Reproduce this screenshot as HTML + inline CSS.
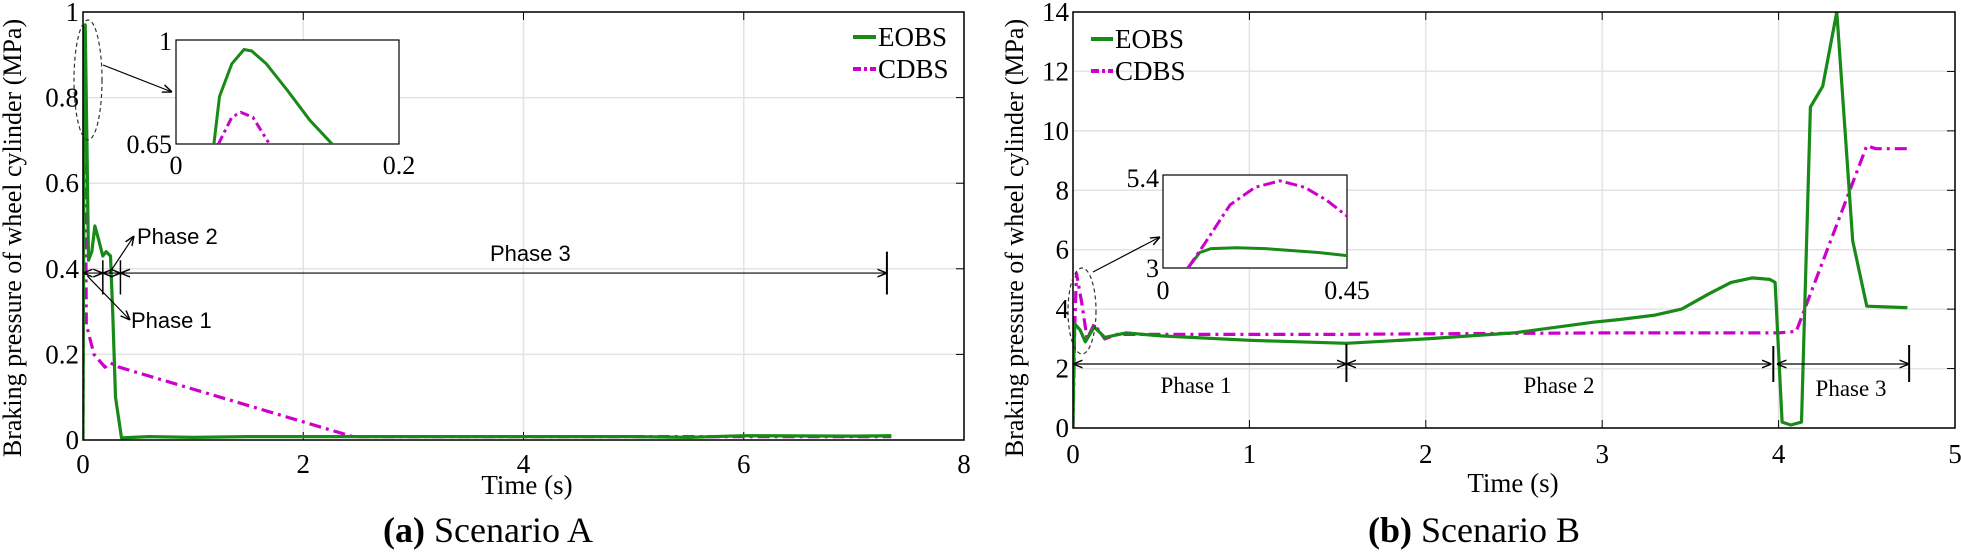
<!DOCTYPE html>
<html><head><meta charset="utf-8"><style>
html,body{margin:0;padding:0;background:#fff;}
svg{display:block;}
.serif{font-family:"Liberation Serif",serif;}
.sans{font-family:"Liberation Sans",sans-serif;}
</style></head><body>
<svg id="fig" width="1961" height="553" viewBox="0 0 1961 553" xmlns="http://www.w3.org/2000/svg">
<defs>
<marker id="ar" viewBox="0 0 10 10" refX="10" refY="5" markerWidth="8" markerHeight="8" orient="auto-start-reverse"><path d="M0,1 L10,5 L0,9" fill="none" stroke="#000" stroke-width="1.5"/></marker>
<clipPath id="clipA"><rect x="83" y="12" width="881" height="429"/></clipPath>
<clipPath id="clipB"><rect x="1073" y="12" width="882" height="417"/></clipPath>
<clipPath id="clipAi"><rect x="176" y="40" width="223" height="104"/></clipPath>
<clipPath id="clipBi"><rect x="1163" y="175" width="184" height="93"/></clipPath>
</defs>
<g id="gA"></g>
<g id="gB"></g>
</svg>
<script>
// Scenario A data
const aEobsT = [0,0.01,0.02,0.035,0.05,0.08,0.108,0.14,0.18,0.21,0.25,0.27,0.295,0.35,0.6,1,1.5,2,3,4,5,5.5,6,7,7.34];
const aEobsV = [0,0.9,0.97,0.7,0.42,0.44,0.5,0.47,0.43,0.44,0.43,0.3,0.1,0.005,0.008,0.006,0.008,0.008,0.008,0.008,0.008,0.006,0.01,0.009,0.01];
const aCdbsT = [0,0.01,0.02,0.03,0.05,0.1,0.2,0.25,0.33,2.45,4,6,7.34];
const aCdbsV = [0,0.85,0.76,0.27,0.25,0.2,0.17,0.18,0.17,0.008,0.008,0.008,0.008];
const aInEobsT = [0.034,0.039,0.05,0.061,0.068,0.081,0.1,0.12,0.14];
const aInEobsV = [0.65,0.81,0.92,0.968,0.963,0.92,0.83,0.73,0.65];
const aInCdbsT = [0.038,0.05,0.058,0.069,0.083];
const aInCdbsV = [0.65,0.74,0.757,0.74,0.655];
const aXTicks = [0,2,4,6,8];
const aYTicks = [0,0.2,0.4,0.6,0.8,1];
const aYTickLabels = ["0","0.2","0.4","0.6","0.8","1"];
// Scenario B data
const bEobsT = [0,0.005,0.01,0.04,0.07,0.12,0.18,0.3,0.5,1,1.55,2,2.5,2.95,3.1,3.3,3.45,3.6,3.73,3.85,3.95,3.98,4.02,4.07,4.13,4.18,4.25,4.33,4.42,4.5,4.73];
const bEobsV = [0,2.5,3.5,3.3,2.9,3.4,3.05,3.2,3.1,2.95,2.85,3.0,3.2,3.56,3.65,3.8,4.0,4.5,4.9,5.05,5.0,4.9,0.2,0.1,0.2,10.8,11.5,14,6.3,4.1,4.05];
const bCdbsT = [0,0.01,0.02,0.05,0.08,0.12,0.18,0.25,1,1.5,2,3,4,4.1,4.5,4.55,4.73];
const bCdbsV = [0,3.5,5.2,4.2,3.0,3.5,3.0,3.15,3.15,3.15,3.17,3.2,3.2,3.25,9.5,9.4,9.4];
const bInEobsT = [0.061,0.09,0.118,0.18,0.25,0.317,0.38,0.45];
const bInEobsV = [3,3.4,3.5,3.52,3.5,3.45,3.4,3.32];
const bInCdbsT = [0.061,0.1,0.164,0.225,0.286,0.347,0.4,0.45];
const bInCdbsV = [3,3.6,4.63,5.08,5.25,5.08,4.75,4.34];
const bXTicks = [0,1,2,3,4,5];
const bYTicks = [0,2,4,6,8,10,12,14];

const NS="http://www.w3.org/2000/svg";
function mk(parent,tag,attrs,text){const e=document.createElementNS(NS,tag);for(const k in attrs)e.setAttribute(k,attrs[k]);if(text!==undefined)e.textContent=text;parent.appendChild(e);return e;}
function lin(d0,d1,r0,r1){return v=>r0+(v-d0)/(d1-d0)*(r1-r0);}
const GREEN="#178a17", MAG="#cc00cc";
function series(g,ts,vs,sx,sy,color,dash,clip,w){
  const pts=ts.map((t,i)=>sx(t).toFixed(1)+","+sy(vs[i]).toFixed(1)).join(" ");
  const p=mk(g,"polyline",{points:pts,fill:"none",stroke:color,"stroke-width":w||3.2,"stroke-linejoin":"round","clip-path":"url(#"+clip+")"});
  if(dash)p.setAttribute("stroke-dasharray",dash);
  return p;
}

// ---------- Chart A ----------
(function(){
const g=document.getElementById("gA");
const x0=83,x1=964,y0=440,y1=12;
const sx=lin(0,8,x0,x1), sy=lin(0,1,y0,y1);
const grid=mk(g,"g",{});


aXTicks.forEach(t=>{mk(grid,"line",{x1:sx(t),x2:sx(t),y1:y1,y2:y0,stroke:"#e3e3e3","stroke-width":1.5});});
aYTicks.forEach(t=>{mk(grid,"line",{x1:x0,x2:x1,y1:sy(t),y2:sy(t),stroke:"#e3e3e3","stroke-width":1.5});});
aXTicks.forEach(t=>{const l=mk(g,"text",{x:sx(t),y:y0+33,"text-anchor":"middle","font-size":27,class:"serif"},String(t));


mk(g,"line",{x1:sx(t),x2:sx(t),y1:y0,y2:y0-8,stroke:"#000"});mk(g,"line",{x1:sx(t),x2:sx(t),y1:y1,y2:y1+8,stroke:"#000"});});
aYTicks.forEach((t,i)=>{const l=mk(g,"text",{x:x0-4,y:sy(t)+9,"text-anchor":"end","font-size":27,class:"serif"},aYTickLabels[i]);


mk(g,"line",{x1:x1,x2:x1-8,y1:sy(t),y2:sy(t),stroke:"#000"});});
const s1=series(g,aCdbsT,aCdbsV,sx,sy,MAG,"12,5,3,5","clipA");


const s2=series(g,aEobsT,aEobsV,sx,sy,GREEN,null,"clipA");


mk(g,"rect",{x:x0,y:y1,width:x1-x0,height:y0-y1,fill:"none",stroke:"#000","stroke-width":1.5});
mk(g,"ellipse",{cx:88,cy:80,rx:14,ry:60,fill:"none",stroke:"#333","stroke-dasharray":"4,3","stroke-width":1.2});
mk(g,"line",{x1:103,y1:65,x2:172,y2:92,stroke:"#000","stroke-width":1.2,"marker-end":"url(#ar)"});
const ix=lin(0,0.2,176,399), iy=lin(0.65,1,144,40);
const ins=mk(g,"g",{});


mk(ins,"rect",{x:176,y:40,width:223,height:104,fill:"#fff",stroke:"#000","stroke-width":1.2});
series(ins,aInEobsT,aInEobsV,ix,iy,GREEN,null,"clipAi",3);
series(ins,aInCdbsT,aInCdbsV,ix,iy,MAG,"9,4,3,4","clipAi",3);
mk(ins,"text",{x:172,y:50,"text-anchor":"end","font-size":26,class:"serif"},"1");
mk(ins,"text",{x:172,y:153,"text-anchor":"end","font-size":26,class:"serif"},"0.65");
mk(ins,"text",{x:176,y:174,"text-anchor":"middle","font-size":26,class:"serif"},"0");
mk(ins,"text",{x:399,y:174,"text-anchor":"middle","font-size":26,class:"serif"},"0.2");
const py=sy(0.39);
mk(g,"line",{x1:sx(0),y1:py,x2:sx(0.18),y2:py,stroke:"#000","stroke-width":1.2,"marker-start":"url(#ar)","marker-end":"url(#ar)"});
mk(g,"line",{x1:sx(0.18),y1:py,x2:sx(0.34),y2:py,stroke:"#000","stroke-width":1.2,"marker-start":"url(#ar)","marker-end":"url(#ar)"});
mk(g,"line",{x1:sx(0.34),y1:py,x2:sx(7.3),y2:py,stroke:"#000","stroke-width":1.2,"marker-start":"url(#ar)","marker-end":"url(#ar)"});
mk(g,"line",{x1:sx(0.18),y1:sy(0.42),x2:sx(0.18),y2:sy(0.34),stroke:"#000","stroke-width":1.5});
mk(g,"line",{x1:sx(0.34),y1:sy(0.42),x2:sx(0.34),y2:sy(0.34),stroke:"#000","stroke-width":1.5});
mk(g,"line",{x1:sx(7.3),y1:sy(0.44),x2:sx(7.3),y2:sy(0.34),stroke:"#000","stroke-width":2});
mk(g,"line",{x1:sx(0.24),y1:py,x2:134,y2:236,stroke:"#000","stroke-width":1.2,"marker-end":"url(#ar)"});
mk(g,"line",{x1:sx(0.04),y1:py+3,x2:130,y2:320,stroke:"#000","stroke-width":1.2,"marker-end":"url(#ar)"});
[["Phase 2",137,244],["Phase 1",131,328],["Phase 3",490,261]].forEach(p=>{const l=mk(g,"text",{x:p[1],y:p[2],"font-size":22,class:"sans"},p[0]);

});
const lg=mk(g,"g",{});


mk(lg,"line",{x1:853,x2:876,y1:37,y2:37,stroke:GREEN,"stroke-width":4});
mk(lg,"text",{x:878,y:46,"font-size":27,class:"serif"},"EOBS");
mk(lg,"line",{x1:853,x2:876,y1:69,y2:69,stroke:MAG,"stroke-width":4,"stroke-dasharray":"8,3,3,3"});
mk(lg,"text",{x:878,y:78,"font-size":27,class:"serif"},"CDBS");
const xl=mk(g,"text",{x:527,y:494,"text-anchor":"middle","font-size":27,class:"serif"},"Time (s)");


const yl=mk(g,"text",{x:0,y:0,"text-anchor":"middle","font-size":26,class:"serif",transform:"translate(21,238) rotate(-90)"},"Braking pressure of wheel cylinder (MPa)");


const cap=mk(g,"text",{x:488,y:542,"text-anchor":"middle","font-size":36,class:"serif"});


mk(cap,"tspan",{"font-weight":"bold"},"(a)");mk(cap,"tspan",{}," Scenario A");
})();

// ---------- Chart B ----------
(function(){
const g=document.getElementById("gB");
const x0=1073,x1=1955,y0=428,y1=12;
const sx=lin(0,5,x0,x1), sy=lin(0,14,y0,y1);
const grid=mk(g,"g",{});


bXTicks.forEach(t=>{mk(grid,"line",{x1:sx(t),x2:sx(t),y1:y1,y2:y0,stroke:"#e3e3e3","stroke-width":1.5});});
bYTicks.forEach(t=>{mk(grid,"line",{x1:x0,x2:x1,y1:sy(t),y2:sy(t),stroke:"#e3e3e3","stroke-width":1.5});});
bXTicks.forEach(t=>{const l=mk(g,"text",{x:sx(t),y:y0+35,"text-anchor":"middle","font-size":27,class:"serif"},String(t));


mk(g,"line",{x1:sx(t),x2:sx(t),y1:y0,y2:y0-8,stroke:"#000"});mk(g,"line",{x1:sx(t),x2:sx(t),y1:y1,y2:y1+8,stroke:"#000"});});
bYTicks.forEach(t=>{const l=mk(g,"text",{x:x0-4,y:sy(t)+9,"text-anchor":"end","font-size":27,class:"serif"},String(t));


mk(g,"line",{x1:x1,x2:x1-8,y1:sy(t),y2:sy(t),stroke:"#000"});});
const s1=series(g,bCdbsT,bCdbsV,sx,sy,MAG,"12,5,3,5","clipB");


const s2=series(g,bEobsT,bEobsV,sx,sy,GREEN,null,"clipB");


mk(g,"rect",{x:x0,y:y1,width:x1-x0,height:y0-y1,fill:"none",stroke:"#000","stroke-width":1.5});
mk(g,"ellipse",{cx:1082,cy:311,rx:14,ry:43,fill:"none",stroke:"#333","stroke-dasharray":"4,3","stroke-width":1.2});
mk(g,"line",{x1:1093,y1:272,x2:1160,y2:237,stroke:"#000","stroke-width":1.2,"marker-end":"url(#ar)"});
const ix=lin(0,0.45,1163,1347), iy=lin(3,5.4,268,175);
const ins=mk(g,"g",{});


mk(ins,"rect",{x:1163,y:175,width:184,height:93,fill:"#fff",stroke:"#000","stroke-width":1.2});
series(ins,bInEobsT,bInEobsV,ix,iy,GREEN,null,"clipBi",3);
series(ins,bInCdbsT,bInCdbsV,ix,iy,MAG,"12,4,3,4","clipBi",3);
mk(ins,"text",{x:1159,y:187,"text-anchor":"end","font-size":26,class:"serif"},"5.4");
mk(ins,"text",{x:1159,y:277,"text-anchor":"end","font-size":26,class:"serif"},"3");
mk(ins,"text",{x:1163,y:299,"text-anchor":"middle","font-size":26,class:"serif"},"0");
mk(ins,"text",{x:1347,y:299,"text-anchor":"middle","font-size":26,class:"serif"},"0.45");
const py=364;
mk(g,"line",{x1:sx(0),y1:py,x2:sx(1.55),y2:py,stroke:"#000","stroke-width":1.2,"marker-start":"url(#ar)","marker-end":"url(#ar)"});
mk(g,"line",{x1:sx(1.55),y1:py,x2:sx(3.96),y2:py,stroke:"#000","stroke-width":1.2,"marker-start":"url(#ar)","marker-end":"url(#ar)"});
mk(g,"line",{x1:sx(3.99),y1:py,x2:sx(4.74),y2:py,stroke:"#000","stroke-width":1.2,"marker-start":"url(#ar)","marker-end":"url(#ar)"});
mk(g,"line",{x1:sx(1.55),y1:344,x2:sx(1.55),y2:382,stroke:"#000","stroke-width":2});
mk(g,"line",{x1:sx(3.97),y1:346,x2:sx(3.97),y2:382,stroke:"#000","stroke-width":2});
mk(g,"line",{x1:sx(4.74),y1:345,x2:sx(4.74),y2:382,stroke:"#000","stroke-width":2});
[["Phase 1",1196,393],["Phase 2",1559,393],["Phase 3",1851,396]].forEach(p=>{const l=mk(g,"text",{x:p[1],y:p[2],"text-anchor":"middle","font-size":23,class:"serif"},p[0]);

});
const lg=mk(g,"g",{});


mk(lg,"line",{x1:1091,x2:1113,y1:39,y2:39,stroke:GREEN,"stroke-width":4});
mk(lg,"text",{x:1115,y:48,"font-size":27,class:"serif"},"EOBS");
mk(lg,"line",{x1:1091,x2:1113,y1:71,y2:71,stroke:MAG,"stroke-width":4,"stroke-dasharray":"8,3,3,3"});
mk(lg,"text",{x:1115,y:80,"font-size":27,class:"serif"},"CDBS");
const xl=mk(g,"text",{x:1513,y:492,"text-anchor":"middle","font-size":27,class:"serif"},"Time (s)");


const yl=mk(g,"text",{x:0,y:0,"text-anchor":"middle","font-size":26,class:"serif",transform:"translate(1023,238) rotate(-90)"},"Braking pressure of wheel cylinder (MPa)");


const cap=mk(g,"text",{x:1474,y:542,"text-anchor":"middle","font-size":36,class:"serif"});


mk(cap,"tspan",{"font-weight":"bold"},"(b)");mk(cap,"tspan",{}," Scenario B");
})();
</script>
</body></html>
